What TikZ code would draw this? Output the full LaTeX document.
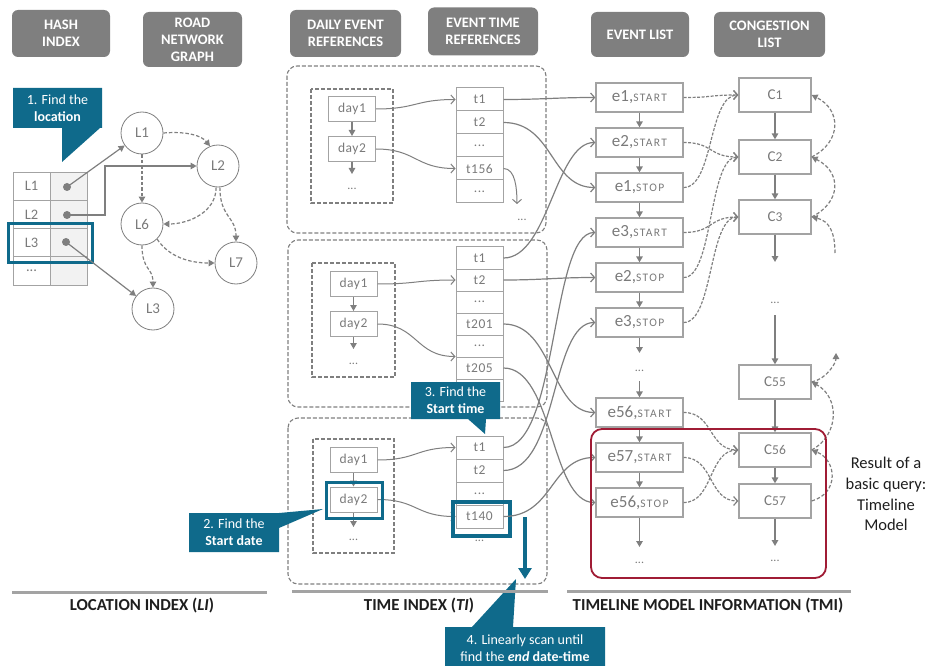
\documentclass[tikz,border=0pt]{standalone}
\usepackage{fontspec}
\setmainfont{Carlito}
\usetikzlibrary{arrows.meta}
\definecolor{hdr}{HTML}{7F7F7F}
\definecolor{ln}{HTML}{7F7F7F}
\definecolor{bx}{HTML}{A3A3A3}
\definecolor{txt}{HTML}{7A7A7A}
\definecolor{tealc}{HTML}{0F6A8B}
\definecolor{crim}{HTML}{A01C35}
\definecolor{cellbg}{HTML}{F2F2F2}
\definecolor{dark}{HTML}{1E1E1E}
\newcommand{\myfs}[1]{\fontsize{#1}{#1}\selectfont}
\newcommand{\evlab}[2]{{\myfs{17}#1,}{\myfs{11.5}\addfontfeature{LetterSpace=12}#2}}
\newcommand{\clab}[1]{{\myfs{15}C}{\myfs{13.5}#1}}
\newcommand{\threedots}{...}
\begin{document}
\begin{tikzpicture}[x=1pt,y=-1pt,
  hdrbox/.style={fill=hdr,rounded corners=6pt,text=white,align=center,inner sep=0pt,
    font=\bfseries\fontsize{14.5}{17}\selectfont},
  cell/.style={draw=bx,line width=0.8pt,minimum width=37,minimum height=28.25,inner sep=0pt,text=txt,font=\myfs{14.5}},
  vcell/.style={cell,fill=cellbg},
  hdot/.style={circle,fill=ln,minimum size=8,inner sep=0pt},
  gnode/.style={circle,draw=ln,line width=0.8pt,minimum size=42,inner sep=0pt,text=txt,font=\myfs{15}},
  daybox/.style={draw=bx,line width=1pt,minimum width=47,minimum height=25,inner sep=0pt,text=txt,
    font=\myfs{13.5}\addfontfeature{LetterSpace=4}},
  tbox/.style={draw=bx,line width=1pt,minimum width=47,minimum height=#1,inner sep=0pt,text=txt,
    font=\myfs{13.5}\addfontfeature{LetterSpace=4}},
  ebox/.style={draw=bx,line width=1.3pt,minimum width=87,minimum height=29,inner sep=0pt,text=txt},
  cbox/.style={draw=bx,line width=1.3pt,minimum width=72,minimum height=34,inner sep=0pt,text=txt},
  ellip/.style={text=txt,font=\myfs{12},inner sep=0pt},
  outerbox/.style={draw=ln,line width=1.1pt,dash pattern=on 4pt off 2pt,rounded corners=10pt},
  innerbox/.style={draw=ln,line width=1.6pt,dash pattern=on 4pt off 2pt},
  conn/.style={draw=ln,line width=1.2pt,-{Straight Barb[length=4pt,width=9pt]}},
  dconn/.style={conn,dash pattern=on 3pt off 1.5pt},
  varr/.style={draw=ln,line width=1.4pt,-{Triangle[length=6pt,width=6.5pt]}},
  gdash/.style={varr,line width=1.2pt,dash pattern=on 3.5pt off 2pt},
  ctext/.style={text=white,align=center,font=\fontsize{14}{17}\selectfont,inner sep=0pt},
  hilite/.style={draw=tealc,line width=3pt},
  seclab/.style={text=dark,font=\bfseries\fontsize{16.8}{18}\selectfont,inner sep=0pt},
  secline/.style={draw=bx,line width=3pt},
]
\useasboundingbox (0,0) rectangle (930,666);

% ---------- column headers ----------
\node[hdrbox,minimum width=98,minimum height=47] (hHash) at (61,33.5) {HASH\\INDEX};
\node[hdrbox,minimum width=99,minimum height=55] (hRoad) at (192.5,39.5) {ROAD\\NETWORK\\GRAPH};
\node[hdrbox,minimum width=111,minimum height=47] (hDaily) at (345.5,33.5) {DAILY EVENT\\REFERENCES};
\node[hdrbox,minimum width=110,minimum height=48] (hTime) at (483,31.5) {EVENT TIME\\REFERENCES};
\node[hdrbox,minimum width=98,minimum height=45] (hEvent) at (640,34.5) {EVENT LIST};
\node[hdrbox,minimum width=111,minimum height=45] (hCong) at (769.5,34.5) {CONGESTION\\LIST};

% ---------- location index: hash table ----------
\foreach \i/\k/\y in {1/L1/186.1,2/L2/214.4,3/L3/242.6,4/\threedots/270.9}{
  \node[cell] (hk\i) at (31.5,\y) {\k};
  \node[vcell] (hv\i) at (68.5,\y) {};
}
\node[hdot] (d1) at (67,187) {};
\node[hdot] (d2) at (67,215) {};
\node[hdot] (d3) at (66,242) {};
\draw[hilite] (8,224) rectangle (92,262);

% callout 1
\fill[tealc] (13,88) -- (102,88) -- (102,128) -- (100,128) -- (62,162) -- (62,128) -- (13,128) -- cycle;
\node[ctext] (co1) at (57.5,108) {1. Find the\\\textbf{location}};

% ---------- road network graph ----------
\node[gnode] (gL1) at (142,133) {L1};
\node[gnode] (gL2) at (218,166) {L2};
\node[gnode] (gL6) at (142,224) {L6};
\node[gnode] (gL7) at (236,263) {L7};
\node[gnode] (gL3) at (153,309) {L3};

\draw[varr,line width=1.2pt] (d1.center) -- (gL1);
\draw[varr,line width=1.2pt] (d2.center) -- ++(38,0) |- (gL2);
\draw[varr,line width=1.2pt] (d3.center) -- (gL3);

\draw[gdash] (gL1.east) .. controls +(25,-2) and +(-8,-10) .. (gL2.112);
\draw[gdash] (gL1) -- (gL6);
\draw[gdash] (gL2.-95) .. controls +(0,25) and +(25,0) .. (gL6.east);
\draw[gdash] (gL2.-85) .. controls +(0,30) and +(0,-25) .. (gL7.north);
\draw[gdash] (gL6.-45) .. controls +(12,18) and +(-25,0) .. (gL7.west);
\draw[gdash] (gL6.south) .. controls +(0,25) and +(0,-20) .. (gL3.north);

% ---------- time index ----------
\draw[outerbox] (287,66) rectangle (546,233);
\draw[outerbox] (288,240) rectangle (547,407);
\draw[outerbox] (288,418) rectangle (547,584);
\draw[innerbox] (311,89) rectangle (393,203);
\draw[innerbox] (312,263) rectangle (395,377);
\draw[innerbox] (313,439) rectangle (394,553);

% block A
\node[daybox] (dA1) at (352,109) {day1};
\node[daybox] (dA2) at (352,149) {day2};
\node[ellip] (dA3) at (352,189) {...};
\coordinate (dA2e) at (352,174);
\draw[varr,line width=1.1pt] (dA1) -- (dA2);
\draw[varr,line width=1.1pt] (dA2.south) -- (dA2e);
\foreach \i/\t/\y in {1/t1/99.5,2/t2/122.5,3/\threedots/145.5,4/t156/168.5,5/\threedots/191.5}
  \node[tbox=23] (tA\i) at (479.5,\y) {\t};
\coordinate (tA4e) at (517,204);
\node[ellip] (tA6) at (522,220) {...};
\draw[conn,line width=1pt] (tA4.east) .. controls +(12,0) and +(0,-15) .. (tA4e);
\draw[conn,line width=1pt] (dA1.east) .. controls +(40,0) and +(-40,0) .. (tA1.west);
\draw[conn,line width=1pt] (dA2.east) .. controls +(40,0) and +(-40,0) .. (tA4.west);

% block B
\node[daybox] (dB1) at (353.5,284) {day1};
\node[daybox] (dB2) at (353.5,324) {day2};
\node[ellip] (dB3) at (353.5,364) {...};
\coordinate (dB2e) at (353.5,349);
\draw[varr,line width=1.1pt] (dB1) -- (dB2);
\draw[varr,line width=1.1pt] (dB2.south) -- (dB2e);
\foreach \i/\t/\y in {1/t1/258,2/t2/280,3/\threedots/302,4/t201/324,5/\threedots/346,6/t205/368,7/{}/390}
  \node[tbox=22] (tB\i) at (479.5,\y) {\t};
\draw[conn,line width=1pt] (dB1.east) .. controls +(40,0) and +(-40,0) .. (tB2.west);
\draw[conn,line width=1pt] (dB2.east) .. controls +(40,0) and +(-40,0) .. (tB6.north west);

% block C
\node[daybox] (dC1) at (353.5,460) {day1};
\node[daybox] (dC2) at (353.5,499.5) {day2};
\node[ellip] (dC3) at (353.5,540) {...};
\coordinate (dC2s) at (353.5,513);
\coordinate (dC2e) at (353.5,527);
\draw[varr,line width=1.1pt] (dC1) -- (dC2);
\draw[varr,line width=1.1pt] (dC2s) -- (dC2e);
\foreach \i/\t/\y in {1/t1/447.5,2/t2/470.5,3/\threedots/493.5,4/t140/516.5}
  \node[tbox=23] (tC\i) at (479.5,\y) {\t};
\node[ellip] (tC5) at (479.5,541) {...};
\draw[conn,line width=1pt] (dC1.east) .. controls +(40,0) and +(-40,0) .. (tC1.west);
\draw[conn,line width=1pt] (dC2.east) .. controls +(40,0) and +(-40,0) .. (tC4.west);
\draw[hilite] (326,482) rectangle (382,518);
\draw[hilite,line width=3.5pt] (453,502) rectangle (510,536);

% scan arrow
\coordinate (sc1) at (525,517);
\coordinate (sc2) at (525,579);
\draw[draw=tealc,line width=4.5pt,-{Triangle[length=11pt,width=13pt]}] (sc1) -- (sc2);

% ---------- timeline model information ----------
\node[ebox] (eA) at (639.5,97.5) {\evlab{e1}{START}};
\node[ebox] (eB) at (639.5,142.5) {\evlab{e2}{START}};
\node[ebox] (eC) at (639.5,187.5) {\evlab{e1}{STOP}};
\node[ebox] (eD) at (639.5,232.5) {\evlab{e3}{START}};
\node[ebox] (eE) at (639.5,277.5) {\evlab{e2}{STOP}};
\node[ebox] (eF) at (639.5,322.5) {\evlab{e3}{STOP}};
\node[ellip] (eDots1) at (639.5,371) {...};
\node[ebox] (eG) at (639.5,412.5) {\evlab{e56}{START}};
\node[ebox] (eH) at (639.5,457.5) {\evlab{e57}{START}};
\node[ebox] (eI) at (639.5,502.5) {\evlab{e56}{STOP}};
\node[ellip] (eDots2) at (639.5,563) {...};
\coordinate (eF1) at (639.5,353);
\coordinate (eG0) at (639.5,381);
\coordinate (eI1) at (639.5,547);
\draw[varr] (eA) -- (eB);
\draw[varr] (eB) -- (eC);
\draw[varr] (eC) -- (eD);
\draw[varr] (eD) -- (eE);
\draw[varr] (eE) -- (eF);
\draw[varr] (eF.south) -- (eF1);
\draw[varr] (eG0) -- (eG.north);
\draw[varr] (eG) -- (eH);
\draw[varr] (eH) -- (eI);
\draw[varr] (eI.south) -- (eI1);

\node[cbox] (cA) at (775,95) {\clab{1}};
\node[cbox] (cB) at (775,157) {\clab{2}};
\node[cbox] (cC) at (775,217) {\clab{3}};
\node[ellip] (cDots1) at (775,303) {...};
\node[cbox] (cD) at (775,382) {\clab{55}};
\node[cbox] (cE) at (775,450) {\clab{56}};
\node[cbox] (cF) at (775,501) {\clab{57}};
\node[ellip] (cDots2) at (775,561) {...};
\coordinate (cC1) at (775,262);
\coordinate (cD0) at (775,315);
\coordinate (cF1) at (775,546);
\draw[varr] (cA) -- (cB);
\draw[varr] (cB) -- (cC);
\draw[varr] (cC.south) -- (cC1);
\draw[varr] (cD0) -- (cD.north);
\draw[varr] (cD) -- (cE);
\draw[varr] (cE) -- (cF);
\draw[varr] (cF.south) -- (cF1);

% time references to events
\draw[conn] (tA1.east) .. controls +(40,0) and +(-40,0) .. (eA.west);
\draw[conn] (tA2.east) .. controls +(50,0) and +(-45,0) .. (eC.west);
\draw[conn] (tB1.east) .. controls +(45,0) and +(-40,0) .. (eB.west);
\draw[conn] (tB2.east) .. controls +(40,0) and +(-40,0) .. (eE.west);
\draw[conn] (tB4.east) .. controls +(50,0) and +(-45,0) .. (eG.west);
\draw[conn] (tB6.east) .. controls +(50,0) and +(-45,0) .. (eI.west);
\draw[conn] (tC1.east) .. controls +(55,0) and +(-45,0) .. (eD.west);
\draw[conn] (tC2.east) .. controls +(55,0) and +(-45,0) .. (eF.west);
\draw[conn] (tC4.east) .. controls +(50,0) and +(-45,0) .. (eH.west);

% events to congestions
\draw[dconn] (eA.east) .. controls +(30,0) and +(-30,0) .. (cA.west);
\draw[dconn] (eB.east) .. controls +(30,0) and +(-30,0) .. (cB.west);
\draw[dconn] (eC.east) .. controls +(30,0) and +(-30,0) .. (cA.west);
\draw[dconn] (eD.east) .. controls +(30,0) and +(-30,0) .. (cC.west);
\draw[dconn] (eE.east) .. controls +(30,0) and +(-30,0) .. (cB.west);
\draw[dconn] (eF.east) .. controls +(30,0) and +(-30,0) .. (cC.west);
\draw[dconn] (eG.east) .. controls +(30,0) and +(-30,0) .. (cE.west);
\draw[dconn] (eH.east) .. controls +(30,0) and +(-30,0) .. (cF.west);
\draw[dconn] (eI.east) .. controls +(30,0) and +(-30,0) .. (cE.west);

% congestion back links
\coordinate (cC0) at (835,253);
\coordinate (cDup) at (836,353);
\draw[gdash] (cB.east) .. controls +(30,-15) and +(30,15) .. (cA.east);
\draw[gdash] (cC.east) .. controls +(30,-15) and +(30,15) .. (cB.east);
\draw[gdash] (cC0) .. controls +(0,-20) and +(18,4) .. (cC.east);
\draw[gdash] (cD.east) .. controls +(15,-3) and +(0,10) .. (cDup);
\draw[gdash] (cE.east) .. controls +(28,-15) and +(28,15) .. (cD.east);
\draw[gdash] (cF.east) .. controls +(28,-8) and +(25,10) .. (cE.east);

% query result
\draw[draw=crim,line width=1.8pt,rounded corners=11pt] (591,429) rectangle (826,578);
\node[text=dark,align=center,font=\fontsize{16.5}{20.7}\selectfont,inner sep=0pt] (res) at (886,494)
  {Result of a\\basic query:\\Timeline\\Model};

% ---------- callouts 2-4 ----------
\fill[tealc] (189,513) -- (279,513) -- (323,509) -- (279,528) -- (279,552) -- (189,552) -- cycle;
\node[ctext] (co2) at (234,532.5) {2. Find the\\\textbf{Start date}};
\fill[tealc] (411,382) -- (500,382) -- (500,419) -- (486,419) -- (485,434) -- (468,419) -- (411,419) -- cycle;
\node[ctext] (co3) at (455.5,400.5) {3. Find the\\\textbf{Start time}};
\fill[tealc] (445,627) -- (472,627) -- (516,579) -- (513,627) -- (605,627) -- (605,666) -- (445,666) -- cycle;
\node[ctext] (co4) at (525,648) {4. Linearly scan until\\find the \textbf{\textit{end}} \textbf{date-time}};

% ---------- section labels ----------
\draw[secline] (12,592) -- (267,592);
\draw[secline] (292,591) -- (548,591);
\draw[secline] (567,591) -- (851,591);
\node[seclab] (sLI) at (142,606) {LOCATION INDEX (\textit{LI})};
\node[seclab] (sTI) at (419,606) {TIME INDEX (\textit{TI})};
\node[seclab] (sTMI) at (708,606) {TIMELINE MODEL INFORMATION (TMI)};
\end{tikzpicture}
\end{document}
